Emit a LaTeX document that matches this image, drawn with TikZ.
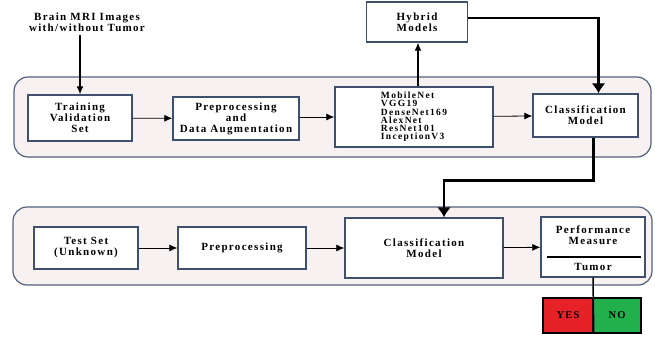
\documentclass[tikz,border=0pt]{standalone}
\usepackage{fontspec}
\setmainfont{Liberation Serif}[LetterSpace=12]
\usepackage{xcolor}
\usetikzlibrary{arrows.meta,positioning}
\definecolor{bxslate}{HTML}{3F506C}
\definecolor{bxpanel}{HTML}{F7F1F1}
\definecolor{bxred}{HTML}{E52228}
\definecolor{bxgreen}{HTML}{22B04C}

\begin{document}
\begin{tikzpicture}[
  x=1pt, y=-1pt,
  font=\bfseries\fontsize{11}{11}\selectfont,
  box/.style={draw=bxslate, line width=1.4pt, fill=white, align=center, inner sep=1pt},
  panel/.style={draw=bxslate!90, line width=1.2pt, fill=bxpanel, rounded corners=14pt},
  ans/.style={draw=black, line width=1.5pt, minimum width=50pt, minimum height=35pt,
              font=\bfseries\fontsize{10.5}{10.5}\selectfont},
  arr/.style={-{Latex[length=8pt,width=7pt]}, line width=0.8pt},
  bigarr/.style={-{Latex[length=10pt,width=14pt]}, line width=2.6pt}
]
\useasboundingbox (0,0) rectangle (655,338);

% panels
\node[panel, minimum width=637pt, minimum height=80pt] (trainpanel) at (332.5,117) {};
\node[panel, minimum width=639pt, minimum height=78pt] (testpanel) at (332.5,246) {};

% training row
\node[align=center] (src) at (87,22) {Brain MRI Images\\with/without Tumor};
\node[box, minimum width=104pt, minimum height=46pt] (train) at (80,118) {Training\\Validation\\Set};
\node[box, minimum width=126pt, minimum height=43pt] (prep1) at (236,118.5) {Preprocessing\\and\\Data Augmentation};
\node[box, minimum width=158pt, minimum height=60pt, align=left,
      font=\bfseries\fontsize{9.5}{8.2}\selectfont\addfontfeature{LetterSpace=14}] (nets) at (414,117)
  {MobileNet\\VGG19\\DenseNet169\\AlexNet\\ResNet101\\InceptionV3};
\node[box, minimum width=101pt, minimum height=40pt] (hybrid) at (417,22) {Hybrid\\Models};
\node[box, minimum width=105pt, minimum height=43pt] (cls1) at (585.5,115.5) {Classification\\Model};

% test row
\node[box, minimum width=104pt, minimum height=42pt] (test) at (86,248) {Test Set\\(Unknown)};
\node[box, minimum width=128pt, minimum height=42pt] (prep2) at (242,248) {Preprocessing};
\node[box, minimum width=158pt, minimum height=60pt] (cls2) at (424,248) {Classification\\Model};
\node[box, minimum width=104pt, minimum height=60pt] (perf) at (593,247) {};
\node[align=center] (perftxt) at (593,235) {Performance\\Measure};
\node (tumor) at (593,267) {Tumor};
\node[ans, fill=bxred] (yes) at (568,315.5) {YES};
\node[ans, fill=bxgreen, minimum width=48pt] (no) at (617,315.5) {NO};

% connectors
\draw[arr, line width=1.3pt] (src.south -| train.north) -- (train.north);
\draw[arr] (train) -- (prep1);
\draw[arr] (prep1.east |- nets.west) -- (nets.west);
\draw[arr] (nets) -- (cls1);
\draw[arr, line width=1.2pt] ([xshift=4pt]nets.north) -- ([xshift=4pt]nets.north |- hybrid.south);
\draw[bigarr] ([yshift=4pt]hybrid.east) -| ([xshift=13pt]cls1.north);
\draw[bigarr] ([xshift=8pt]cls1.south) -- ++(0,43) -| ([xshift=20pt]cls2.north);
\draw[arr] (test) -- (prep2);
\draw[arr] (prep2) -- (cls2);
\draw[arr] (cls2) -- (perf);
\draw[line width=1.3pt] ([xshift=7pt]perf.west |- 0,257) -- ([xshift=-5pt]perf.east |- 0,257);
\draw[line width=1.5pt] (perf.south) -- (yes.south east);

\end{tikzpicture}
\end{document}
